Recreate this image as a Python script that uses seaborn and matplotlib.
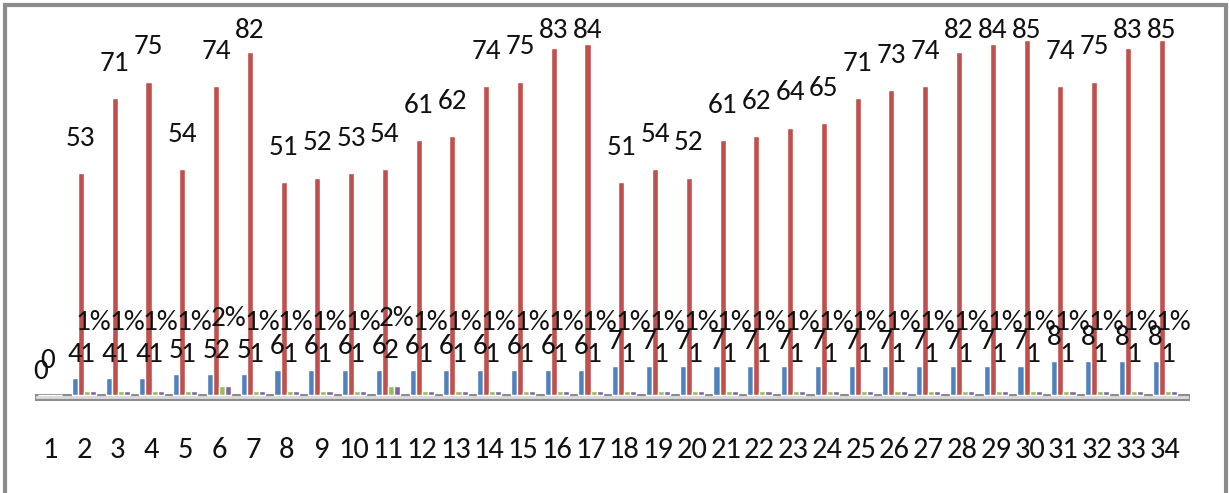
import numpy as np
import pandas as pd
import matplotlib
matplotlib.use('Agg')
import matplotlib.pyplot as plt
from matplotlib.patches import Rectangle
import seaborn as sns

#%% data
cats = [str(i) for i in range(1, 35)]
blue = [0, 4, 4, 4, 5, 5, 5, 6, 6, 6, 6, 6, 6, 6, 6, 6, 6,
        7, 7, 7, 7, 7, 7, 7, 7, 7, 7, 7, 7, 7, 8, 8, 8, 8]
red = [0, 53, 71, 75, 54, 74, 82, 51, 52, 53, 54, 61, 62, 74, 75, 83, 84,
       51, 54, 52, 61, 62, 64, 65, 71, 73, 74, 82, 84, 85, 74, 75, 83, 85]
green = [0, 1, 1, 1, 1, 2, 1, 1, 1, 1, 2, 1, 1, 1, 1, 1, 1,
         1, 1, 1, 1, 1, 1, 1, 1, 1, 1, 1, 1, 1, 1, 1, 1, 1]
purple_pct = [0, 1, 1, 1, 1, 2, 1, 1, 1, 1, 2, 1, 1, 1, 1, 1, 1,
              1, 1, 1, 1, 1, 1, 1, 1, 1, 1, 1, 1, 1, 1, 1, 1, 1]
series = ['blue', 'red', 'green', 'purple']
colors = ['#4F81BD', '#C0504D', '#9BBB59', '#8064A2']

df = pd.DataFrame({
    'cat': cats * 4,
    'series': np.repeat(series, len(cats)),
    'value': blue + red + green + purple_pct,
})

#%% plot
sns.set_style('white')
plt.rcParams['font.family'] = ['Carlito', 'Roboto Condensed', 'DejaVu Sans']

fig = plt.figure(figsize=(12.29, 4.93), dpi=100)
ax = fig.add_axes([35 / 1229, 92 / 493, 1155 / 1229, 382 / 493])

sns.barplot(data=df, x='cat', y='value', hue='series', palette=colors,
            width=0.72, saturation=1, legend=False, ax=ax)

# floor of the 3d chart
ax.axhspan(-1.3, 0, facecolor='#d9d9d9', edgecolor='#8c8c8c', lw=1.5, zorder=0)

ax.set_ylim(-1.5, 90)
ax.set_xlim(-0.45, 33.75)

# data labels
lab_blue = [str(v) for v in blue]
lab_red = [str(v) for v in red]
lab_green = [''] + [str(v) for v in green[1:]]
lab_purple = [''] + ['%d%%' % v for v in purple_pct[1:]]
pads = [8, 16, 17, 40]
all_texts = []
for cont, labs, pad in zip(ax.containers, [lab_blue, lab_red, lab_green, lab_purple], pads):
    all_texts.append(ax.bar_label(cont, labels=labs, padding=pad, fontsize=21, color='#111111'))

# red labels stay inside the plot area (like excel): clamp the offset near the top
top_lim = fig.bbox.height - 43
for t, v in zip(all_texts[1], red):
    y = ax.transData.transform((0, v))[1]
    t.xyann = (0, min(16, (top_lim - y) * 72 / fig.dpi))

ax.set_xlabel('')
ax.set_ylabel('')
ax.set_yticks([])
ax.tick_params(axis='x', length=0, pad=26, labelsize=22, labelcolor='#111111')
for s in ax.spines.values():
    s.set_visible(False)

fig.add_artist(Rectangle((5 / 1229, -0.05), 1221 / 1229, 1.04, transform=fig.transFigure,
                         facecolor='none', edgecolor='#8c8c8c', lw=3))

plt.savefig('out.png', dpi=100)
